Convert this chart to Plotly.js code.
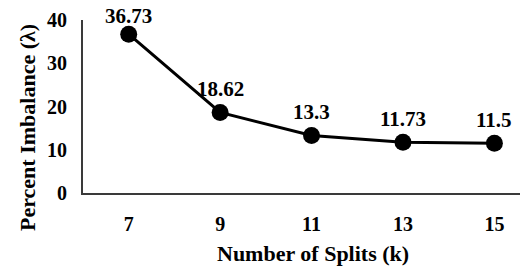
<!DOCTYPE html>
<html><head><meta charset="utf-8">
<script src="https://cdn.plot.ly/plotly-3.0.1.min.js"></script>
<style>html,body{margin:0;padding:0;background:#fff}#c{width:520px;height:267px}</style>
</head><body><div id="c"></div>
<script>
const splits = ['7', '9', '11', '13', '15'];
const imbalance = [36.73, 18.62, 13.3, 11.73, 11.5];
const labels = ['36.73', '18.62', '13.3', '11.73', '11.5'];
const yTicks = [0, 10, 20, 30, 40];

const F = 'Liberation Serif, Times New Roman, serif';
const T = 20, B = 74, L = 83, W = 520, H = 267;
const PW = W - L, PH = H - T - B;
const YMAX = 40;
const trace = {
  x: splits, y: imbalance, type: 'scatter', mode: 'lines+markers',
  line: {color: '#000', width: 3},
  marker: {color: '#000', size: 17},
  cliponaxis: false, hoverinfo: 'skip'
};
// data labels above points, kept inside the chart area (as Excel does)
const labelAnns = imbalance.map((v, i) => {
  const py = T + PH * (1 - v / YMAX);
  return {
    x: i, y: v, xref: 'x', yref: 'y', text: '<b>' + labels[i] + '</b>',
    showarrow: false, xanchor: 'center', yanchor: 'bottom',
    yshift: Math.min(9, py - 30),
    font: {family: F, size: 21, color: '#000'}
  };
});
const layout = {
  width: W, height: H,
  margin: {l: L, r: 0, t: T, b: B},
  paper_bgcolor: '#fff', plot_bgcolor: '#fff',
  showlegend: false,
  font: {family: F, color: '#000', weight: 'bold'},
  xaxis: {type: 'category', categoryarray: splits, range: [-0.5, 4.28], showgrid: false, zeroline: false,
    showline: true, linecolor: '#3a3a3a', linewidth: 2, ticks: '',
    ticklabelstandoff: 12,
    tickfont: {family: F, size: 20, color: '#000', weight: 'bold'}},
  yaxis: {range: [0, YMAX], tickvals: yTicks, showgrid: false, zeroline: false,
    showline: true, linecolor: '#3a3a3a', linewidth: 2, ticks: '',
    ticklabelstandoff: 10,
    tickfont: {family: F, size: 20, color: '#000', weight: 'bold'}},
  annotations: labelAnns.concat([
    {text: '<b>Number of Splits (k)</b>', xref: 'paper', yref: 'paper',
     x: (313 - L) / PW, y: (H - B - 253) / PH, showarrow: false,
     font: {family: F, size: 22, color: '#000'}, xanchor: 'center', yanchor: 'middle'},
    {text: '<b>Percent Imbalance (</b>λ<b>)</b>', xref: 'paper', yref: 'paper',
     x: (27 - L) / PW, y: (H - B - 128) / PH, showarrow: false, textangle: -90,
     font: {family: F, size: 22, color: '#000'}, xanchor: 'center', yanchor: 'middle'}
  ])
};
Plotly.newPlot('c', [trace], layout, {displayModeBar: false, staticPlot: true});
</script></body></html>
